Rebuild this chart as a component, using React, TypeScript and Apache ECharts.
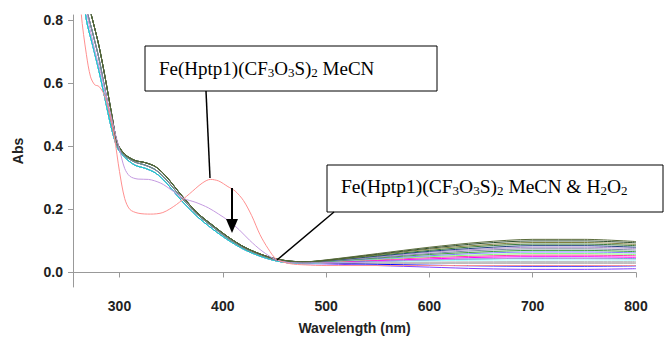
import React, { useEffect, useRef } from "react";
import * as echarts from "echarts";

// Wavelength grid shared by the bundle of spectra (nm)
const bundleWavelengths = [262, 268, 274, 280, 286, 292, 298, 305, 315, 325, 335, 345, 360, 375, 390, 405, 420, 435, 450, 465, 480, 500, 550, 600, 650, 700, 750, 800];

// Short-wavelength parts (262..480 nm) of the bundle spectra
const uvGreen = [1.05, 0.88, 0.8, 0.72, 0.62, 0.51, 0.41, 0.375, 0.355, 0.348, 0.335, 0.305, 0.245, 0.19, 0.15, 0.113, 0.082, 0.06, 0.044, 0.036, 0.034];
const uvMiddle = [1.0, 0.84, 0.76, 0.68, 0.58, 0.48, 0.4, 0.37, 0.35, 0.34, 0.325, 0.295, 0.237, 0.185, 0.145, 0.108, 0.078, 0.057, 0.041, 0.033, 0.031];
const uvBlue = [0.95, 0.8, 0.72, 0.64, 0.55, 0.46, 0.395, 0.365, 0.34, 0.33, 0.315, 0.285, 0.228, 0.178, 0.138, 0.103, 0.074, 0.053, 0.038, 0.03, 0.028];

// Long-wavelength parts (500..800 nm) of each bundle spectrum
const tail00 = [0.04, 0.06, 0.08, 0.096, 0.105, 0.105, 0.098];
const tail01 = [0.039, 0.058, 0.077, 0.092, 0.1, 0.1, 0.094];
const tail02 = [0.038, 0.056, 0.074, 0.087, 0.095, 0.095, 0.089];
const tail03 = [0.038, 0.054, 0.07, 0.083, 0.09, 0.09, 0.085];
const tail04 = [0.037, 0.052, 0.067, 0.078, 0.085, 0.085, 0.08];
const tail05 = [0.037, 0.05, 0.064, 0.074, 0.08, 0.08, 0.076];
const tail06 = [0.036, 0.048, 0.06, 0.07, 0.075, 0.075, 0.071];
const tail07 = [0.035, 0.046, 0.057, 0.065, 0.07, 0.07, 0.066];
const tail08 = [0.035, 0.044, 0.053, 0.061, 0.065, 0.065, 0.062];
const tail09 = [0.034, 0.042, 0.05, 0.056, 0.06, 0.06, 0.057];
const tail10 = [0.033, 0.04, 0.047, 0.052, 0.055, 0.055, 0.053];
const tail11 = [0.033, 0.038, 0.043, 0.048, 0.05, 0.05, 0.048];
const tail12 = [0.032, 0.036, 0.04, 0.043, 0.045, 0.045, 0.044];
const tail13 = [0.031, 0.034, 0.037, 0.039, 0.04, 0.04, 0.039];
const tail14 = [0.031, 0.032, 0.033, 0.034, 0.035, 0.035, 0.035];
const tail15 = [0.03, 0.03, 0.03, 0.03, 0.03, 0.03, 0.03];
const tail16 = [0.029, 0.026, 0.023, 0.021, 0.02, 0.02, 0.021];
const tail17 = [0.027, 0.022, 0.017, 0.012, 0.01, 0.01, 0.012];

const bundleUV = [uvGreen, uvGreen, uvGreen, uvGreen, uvGreen, uvGreen, uvMiddle, uvMiddle, uvMiddle, uvMiddle, uvMiddle, uvMiddle, uvBlue, uvBlue, uvBlue, uvBlue, uvBlue, uvBlue];
const bundleTails = [tail00, tail01, tail02, tail03, tail04, tail05, tail06, tail07, tail08, tail09, tail10, tail11, tail12, tail13, tail14, tail15, tail16, tail17];
const bundleColors = ["#5a6b3a", "#2f4f2f", "#808040", "#3a7a3a", "#204080", "#b090d0", "#7a8aa0", "#40a040", "#8080ff", "#80ff80", "#ff40a0", "#ff00ff", "#00c8c8", "#a0ffff", "#c0c0c0", "#808080", "#0000ff", "#8040ff"];

// Initial spectrum (red)
const redWavelengths = [258, 263, 268, 272, 276, 280, 285, 290, 295, 300, 305, 310, 318, 330, 342, 355, 368, 380, 388, 396, 405, 412, 420, 428, 436, 444, 452, 465, 480, 500, 600, 700, 800];
const redValues = [1.1, 0.82, 0.69, 0.62, 0.595, 0.59, 0.565, 0.51, 0.43, 0.32, 0.235, 0.2, 0.188, 0.185, 0.19, 0.215, 0.25, 0.283, 0.295, 0.29, 0.272, 0.258, 0.228, 0.18, 0.12, 0.075, 0.042, 0.028, 0.024, 0.022, 0.022, 0.022, 0.022];

// Second spectrum (light purple)
const purpleWavelengths = [262, 268, 275, 282, 290, 296, 300, 305, 310, 318, 328, 340, 350, 362, 374, 386, 396, 406, 416, 426, 438, 452, 470, 500, 600, 700, 800];
const purpleValues = [0.98, 0.83, 0.72, 0.63, 0.52, 0.44, 0.39, 0.33, 0.305, 0.296, 0.295, 0.283, 0.262, 0.235, 0.222, 0.205, 0.185, 0.163, 0.135, 0.102, 0.068, 0.04, 0.03, 0.03, 0.04, 0.045, 0.043];

const xTicks = [300, 400, 500, 600, 700, 800];
const yTicks = [0, 0.2, 0.4, 0.6, 0.8];

const serifFont = "'Liberation Serif', 'Times New Roman', serif";
const sansFont = "'Liberation Sans', Arial, sans-serif";

const rich1 = {
  n: { fontSize: 19, fontFamily: serifFont, fill: "#000", lineHeight: 22, verticalAlign: "middle" },
  s: { fontSize: 13, fontFamily: serifFont, fill: "#000", lineHeight: 22, verticalAlign: "bottom" },
};
const rich2 = {
  n: { fontSize: 19.5, fontFamily: serifFont, fill: "#000", lineHeight: 22, verticalAlign: "middle" },
  s: { fontSize: 13, fontFamily: serifFont, fill: "#000", lineHeight: 22, verticalAlign: "bottom" },
};

export default function App() {
  const ref = useRef<HTMLDivElement>(null);
  useEffect(() => {
    if (!ref.current) return;
    const chart = echarts.init(ref.current, null, { renderer: "svg" });
    const series: any[] = [];
    for (let i = bundleTails.length - 1; i >= 0; i--) {
      const values = bundleUV[i].concat(bundleTails[i]);
      series.push({
        type: "line",
        data: bundleWavelengths.map((w, j) => [w, values[j]]),
        showSymbol: false,
        smooth: 0.3,
        lineStyle: { width: 1, color: bundleColors[i] },
        itemStyle: { color: bundleColors[i] },
      });
    }
    series.push({
      type: "line",
      data: purpleWavelengths.map((w, j) => [w, purpleValues[j]]),
      showSymbol: false,
      smooth: 0.3,
      lineStyle: { width: 1, color: "#c49ae0" },
    });
    series.push({
      type: "line",
      data: redWavelengths.map((w, j) => [w, redValues[j]]),
      showSymbol: false,
      smooth: 0.3,
      lineStyle: { width: 1, color: "#ff9090" },
    });

    chart.setOption({
      animation: false,
      backgroundColor: "#fff",
      grid: { left: 73, right: 29, top: 15, bottom: 52, outerBoundsMode: "none", containLabel: false },
      xAxis: {
        type: "value",
        min: 255,
        max: 800,
        name: "Wavelength (nm)",
        nameLocation: "middle",
        nameGap: 34,
        nameTextStyle: { fontFamily: sansFont, fontWeight: "bold", fontSize: 14, color: "#222" },
        axisLine: { show: true, lineStyle: { color: "#999", width: 1 } },
        axisTick: { show: true, length: 5, customValues: xTicks, lineStyle: { color: "#999" } },
        axisLabel: { customValues: xTicks, margin: 12, fontFamily: sansFont, fontWeight: "bold", fontSize: 14, color: "#222" },
        splitLine: { show: false },
      },
      yAxis: {
        type: "value",
        min: -0.046,
        max: 0.816,
        name: "Abs",
        nameLocation: "middle",
        nameGap: 48,
        nameRotate: 90,
        nameTextStyle: { fontFamily: sansFont, fontWeight: "bold", fontSize: 14, color: "#222" },
        axisLine: { show: true, lineStyle: { color: "#999", width: 1 } },
        axisTick: { show: true, length: 5, customValues: yTicks, lineStyle: { color: "#999" } },
        axisLabel: {
          customValues: yTicks,
          margin: 10,
          fontFamily: sansFont,
          fontWeight: "bold",
          fontSize: 14,
          color: "#222",
          formatter: (v: number) => v.toFixed(1),
        },
        splitLine: { show: false },
      },
      series,
      graphic: [
        { type: "rect", z: 100, shape: { x: 145, y: 46, width: 292, height: 45 }, style: { fill: "#fff", stroke: "#000", lineWidth: 1 } },
        {
          type: "text", z: 101, x: 159, y: 68,
          style: {
            text: "{n|Fe(Hptp1)(CF}{s|3}{n|O}{s|3}{n|S)}{s|2}{n| MeCN}",
            rich: rich1, verticalAlign: "middle", fill: "#000",
          },
        },
        { type: "line", z: 100, shape: { x1: 206, y1: 91, x2: 210, y2: 178 }, style: { stroke: "#000", lineWidth: 1.5 } },
        { type: "line", z: 100, shape: { x1: 232, y1: 188, x2: 232, y2: 222 }, style: { stroke: "#000", lineWidth: 2 } },
        { type: "polygon", z: 100, shape: { points: [[226, 219], [238, 219], [232, 233]] }, style: { fill: "#000" } },
        { type: "rect", z: 100, shape: { x: 327, y: 165, width: 336, height: 47 }, style: { fill: "#fff", stroke: "#000", lineWidth: 1 } },
        {
          type: "text", z: 101, x: 341, y: 186,
          style: {
            text: "{n|Fe(Hptp1)(CF}{s|3}{n|O}{s|3}{n|S)}{s|2}{n| MeCN & H}{s|2}{n|O}{s|2}",
            rich: rich2, verticalAlign: "middle", fill: "#000",
          },
        },
        { type: "line", z: 100, shape: { x1: 334, y1: 212, x2: 277, y2: 260 }, style: { stroke: "#000", lineWidth: 1.5 } },
      ],
    });
    return () => chart.dispose();
  }, []);
  return (
    <div
      ref={ref}
      style={{ position: "fixed", left: 0, top: 0, width: 665, height: 339, background: "#fff" }}
    />
  );
}
